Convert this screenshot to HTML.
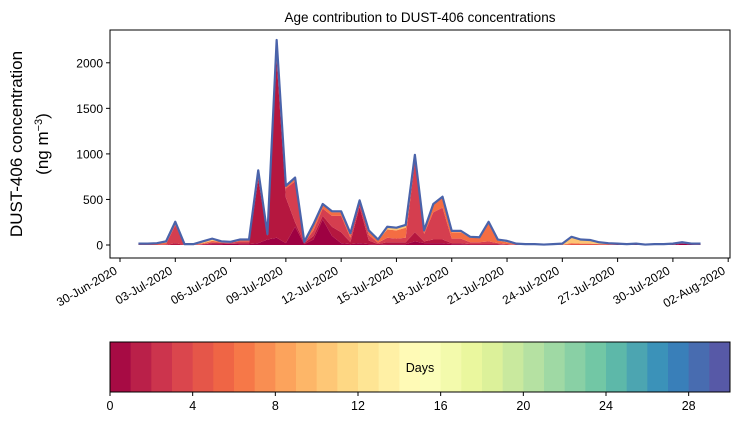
<!DOCTYPE html>
<html><head><meta charset="utf-8"><style>
html,body{margin:0;padding:0;background:#fff;}
svg text{font-family:"Liberation Sans",sans-serif;fill:#000;}
</style></head><body>
<svg id="chart" width="739" height="425" viewBox="0 0 739 425" xmlns="http://www.w3.org/2000/svg">
<text x="420" y="22" font-size="13.5" text-anchor="middle">Age contribution to DUST-406 concentrations</text>
<g id="plot"></g>
<text transform="translate(22,144) rotate(-90)" font-size="17" text-anchor="middle">DUST-406 concentration</text>
<text transform="translate(48,144) rotate(-90)" font-size="17" text-anchor="middle">(ng m<tspan baseline-shift="super" font-size="11">−3</tspan>)</text>
<g id="cbar"></g>
</svg>
<script>
const tickDates = ["30-Jun-2020","03-Jul-2020","06-Jul-2020","09-Jul-2020","12-Jul-2020","15-Jul-2020","18-Jul-2020","21-Jul-2020","24-Jul-2020","27-Jul-2020","30-Jul-2020","02-Aug-2020"];
const yTicks = [0,500,1000,1500,2000];
const cbarTicks = [0,4,8,12,16,20,24,28];
const startDay = 1;
const stepDays = 0.5;
const ageDay0  = [0,0,0,0,0,0,0,5,10,10,15,10,10,20,60,80,20,200,10,60,280,100,20,10,20,10,5,10,10,10,40,20,20,20,10,10,5,5,5,5,0,0,0,0,0,0,0,0,0,0,0,0,0,0,5,0,0,0,0,15,5,0];
const ageDay1  = [0,0,0,0,20,0,0,0,10,10,5,10,10,700,40,1950,500,50,10,40,40,100,120,20,400,40,5,20,20,20,100,20,40,40,10,10,5,5,5,5,5,0,0,0,0,0,0,0,0,0,0,0,5,0,5,0,0,0,5,5,5,5];
const ageDay2to4 = [5,5,5,10,200,3,3,5,10,5,5,20,20,80,10,170,100,450,5,60,80,120,180,50,50,60,15,50,40,50,780,80,300,350,50,50,20,20,30,10,5,5,3,3,1,2,2,5,5,5,5,5,3,3,2,1,3,3,3,5,2,3];
const ageDay4to8 = [5,5,10,15,25,4,4,10,15,10,5,15,15,15,5,40,25,35,5,60,40,40,40,40,15,40,25,90,90,110,60,30,80,110,70,70,50,45,200,30,20,5,3,3,2,3,3,15,10,10,5,5,3,3,2,2,3,3,3,3,2,3];
const ageDay8plus = [5,5,5,15,10,3,3,20,25,5,5,5,5,5,5,10,5,5,5,10,10,10,10,10,5,10,10,30,30,30,10,10,10,10,15,15,10,10,15,10,15,5,4,4,2,5,10,70,45,40,20,10,4,4,1,2,4,4,4,2,1,4];

const NS="http://www.w3.org/2000/svg";
const L=110,R=730,T=30,B=258;
const xDay=d=>120+d*18.43;
const yVal=v=>245-v*0.0911;
function mk(tag,attrs,parent){const e=document.createElementNS(NS,tag);for(const k in attrs)e.setAttribute(k,attrs[k]);parent.appendChild(e);return e;}
const plot=document.getElementById('plot');

const series=[ageDay0,ageDay1,ageDay2to4,ageDay4to8,ageDay8plus];
const names=['layer-age-0-1d','layer-age-1-2d','layer-age-2-4d','layer-age-4-8d','layer-age-8plus'];
const cols=['#9e0142','#b5173f','#d53e4f','#f46d43','#fdc474'];
const n=ageDay0.length;
let base=new Array(n).fill(0);
series.forEach((s,k)=>{
  const top=base.map((b,i)=>b+s[i]);
  let d='';
  for(let i=0;i<n;i++){d+=(i?'L':'M')+xDay(startDay+i*stepDays).toFixed(2)+','+yVal(top[i]).toFixed(2);}
  for(let i=n-1;i>=0;i--){d+='L'+xDay(startDay+i*stepDays).toFixed(2)+','+yVal(base[i]).toFixed(2);}
  const p=mk('path',{d:d+'Z',fill:cols[k],stroke:'none'},plot);
  
  
  base=top;
});
let dl='';
for(let i=0;i<n;i++){dl+=(i?'L':'M')+xDay(startDay+i*stepDays).toFixed(2)+','+yVal(base[i]).toFixed(2);}
const tl=mk('path',{d:dl,fill:'none',stroke:'#4a63aa','stroke-width':2.2,'stroke-linejoin':'round'},plot);



const frame=mk('rect',{x:L,y:T,width:R-L,height:B-T,fill:'none',stroke:'#000','stroke-width':1},plot);



yTicks.forEach(v=>{
  const y=yVal(v);
  const t=mk('line',{x1:L-4,x2:L,y1:y,y2:y,stroke:'#000'},plot);
  
  
  const lb=mk('text',{x:L-7,y:y+4.5,'font-size':12,'text-anchor':'end'},plot);
  lb.textContent=v;
  
  
});
tickDates.forEach((s,i)=>{
  const x=xDay(i*3);
  const t=mk('line',{x1:x,x2:x,y1:B,y2:B+4,stroke:'#000'},plot);
  
  
  const lb=mk('text',{transform:`translate(${x-2},${B+15}) rotate(-30)`,'font-size':12,'text-anchor':'end'},plot);
  lb.textContent=s;
  
  
});

const stops=['#9e0142','#d53e4f','#f46d43','#fdae61','#fee08b','#ffffbf','#e6f598','#abdda4','#66c2a5','#3288bd','#5e4fa2'];
function hex(h){return [1,3,5].map(j=>parseInt(h.substr(j,2),16));}
function spectral(t){const p=t*10,i=Math.min(9,Math.floor(p)),f=p-i;const a=hex(stops[i]),b=hex(stops[i+1]);return 'rgb('+a.map((v,j)=>Math.round(v+(b[j]-v)*f)).join(',')+')';}
const cb=document.getElementById('cbar');
const CL=110,CR=730,CT=342,CB=392,N=30,w=(CR-CL)/N;
for(let k=0;k<N;k++){
  const r=mk('rect',{x:CL+k*w,y:CT,width:w+0.5,height:CB-CT,fill:spectral((k+0.5)/N)},cb);
  
  
}
mk('rect',{x:CL,y:CT,width:CR-CL,height:CB-CT,fill:'none',stroke:'#000'},cb);
const dt=mk('text',{x:420,y:372,'font-size':12.5,'text-anchor':'middle'},cb);
dt.textContent='Days';


cbarTicks.forEach(v=>{
  const x=CL+v*w;
  const t=mk('line',{x1:x,x2:x,y1:CB,y2:CB+4,stroke:'#000'},cb);
  
  
  const lb=mk('text',{x:x,y:CB+18,'font-size':12.5,'text-anchor':'middle'},cb);
  lb.textContent=v;
  
  
});
</script>
</body></html>
